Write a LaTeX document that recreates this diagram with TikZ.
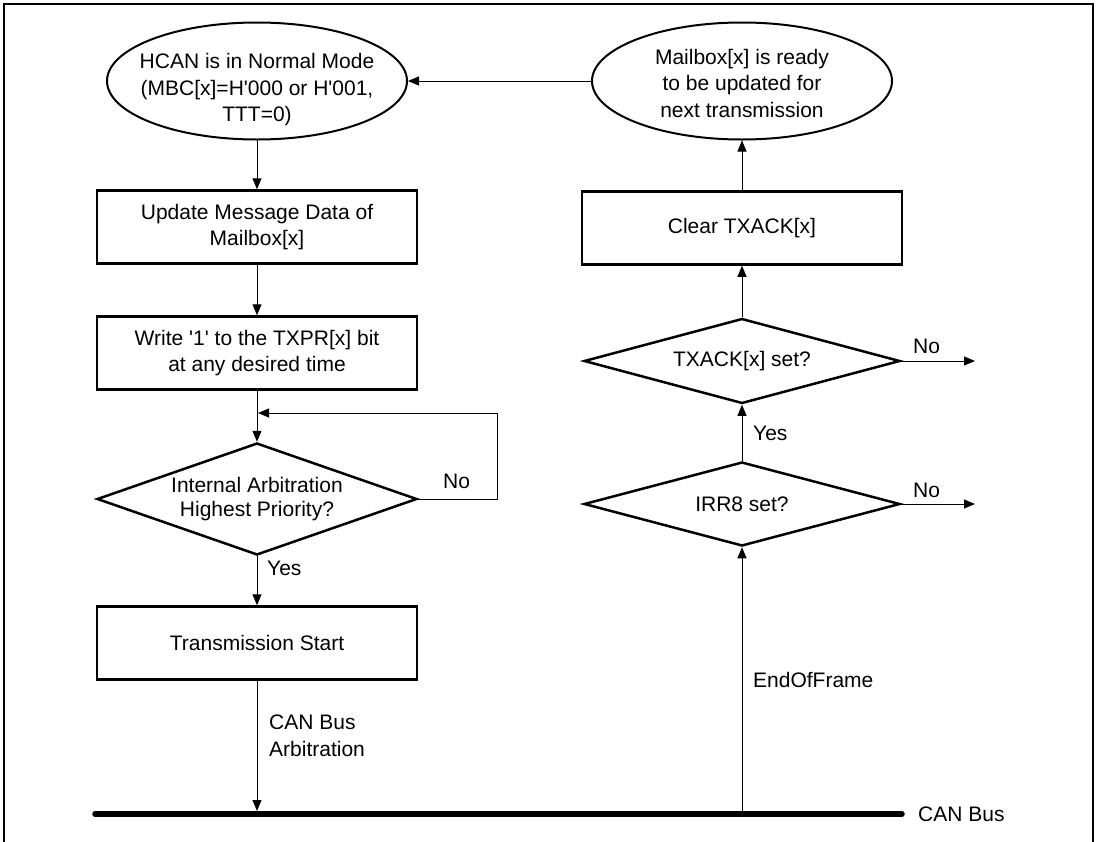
\documentclass[tikz,border=0pt]{standalone}
\usepackage{fontspec}
\setmainfont{Liberation Sans}
\usetikzlibrary{shapes.geometric,arrows.meta}
\begin{document}
\begin{tikzpicture}[x=1pt,y=-1pt,
  font=\fontsize{21}{26.5}\selectfont,
  proc/.style={draw,line width=2.5pt,minimum width=320pt,minimum height=73pt,align=center,inner sep=0pt},
  term/.style={draw,ellipse,line width=2pt,minimum width=300pt,minimum height=117pt,inner sep=0pt},
  txt/.style={align=center,inner sep=0pt},
  test/.style={draw,diamond,line width=2.5pt,align=center,shape aspect=3,inner xsep=-40pt,inner ysep=-15pt},
  flow/.style={line width=1pt,-{Triangle[length=11pt,width=9pt]}},
  lbl/.style={anchor=base west,inner sep=0pt,align=left}]
\useasboundingbox (0,0) rectangle (1100,841);
% outer frame
\draw[line width=2pt] (4,845) -- (4,4) -- (1093,4) -- (1093,845);

% transmit side
\node[term] (start) at (257,81) {};
\node[txt] (startT) at (257,90) {HCAN is in Normal Mode\\(MBC[x]=H\textquotesingle 000 or H\textquotesingle 001,\\TTT=0)};
\node[proc] (upd) at (257,227) {Update Message Data of\\Mailbox[x]};
\node[proc] (wr) at (257,353) {Write \textquotesingle 1\textquotesingle{} to the TXPR[x] bit\\at any desired time};
\node[test,minimum width=320pt,minimum height=112pt] (arb) at (257,499) {Internal Arbitration\\[-2pt]Highest Priority?};
\node[proc] (tx) at (257,643) {Transmission Start};

% completion side
\node[term] (ready) at (742,81) {};
\node[txt] (readyT) at (742,83) {Mailbox[x] is ready\\to be updated for\\next transmission};
\node[proc] (clr) at (742,228) {Clear TXACK[x]};
\node[test,minimum width=316pt,minimum height=85pt] (ack) at (742,361) {TXACK[x] set?};
\node[test,minimum width=316pt,minimum height=84pt] (irr) at (742,504) {IRR8 set?};

% the bus
\coordinate (busL) at (95,814);
\coordinate (busR) at (902,814);
\coordinate (busA) at (257,811);
\coordinate (busE) at (742,814);
\draw[line width=5.5pt,line cap=round] (busL) -- (busR);
\node[lbl] (buslbl) at (918,821) {CAN Bus};

% connectors, left column
\draw[flow] (start) -- (upd);
\draw[flow] (upd) -- (wr);
\draw[flow] (wr) -- (arb);
\draw[flow] (arb) -- (tx);
\node[lbl] (yes1) at (267,575) {Yes};
\coordinate (loopR) at (497,413);
\coordinate (loopL) at (258,413);
\draw[flow] (arb.east) -| (loopR) -- (loopL);
\node[lbl] (no1) at (443,488) {No};
\draw[flow] (tx) -- (busA);
\node[lbl] (arbl) at (269,756) {CAN Bus\\Arbitration};

% connectors, right column
\draw[flow] (busE) -- (irr.south);
\node[lbl] (eof) at (753,687) {EndOfFrame};
\draw[flow] (irr) -- (ack);
\node[lbl] (yes2) at (753,440) {Yes};
\draw[flow] (ack) -- (clr);
\draw[flow] (clr) -- (ready);
\draw[flow] (ready.west) -- (start.east);
\coordinate (ackNo) at (975,361);
\coordinate (irrNo) at (975,504);
\draw[flow] (ack.east) -- (ackNo);
\draw[flow] (irr.east) -- (irrNo);
\node[lbl] (no2) at (913,353) {No};
\node[lbl] (no3) at (913,497) {No};
\end{tikzpicture}
\end{document}
